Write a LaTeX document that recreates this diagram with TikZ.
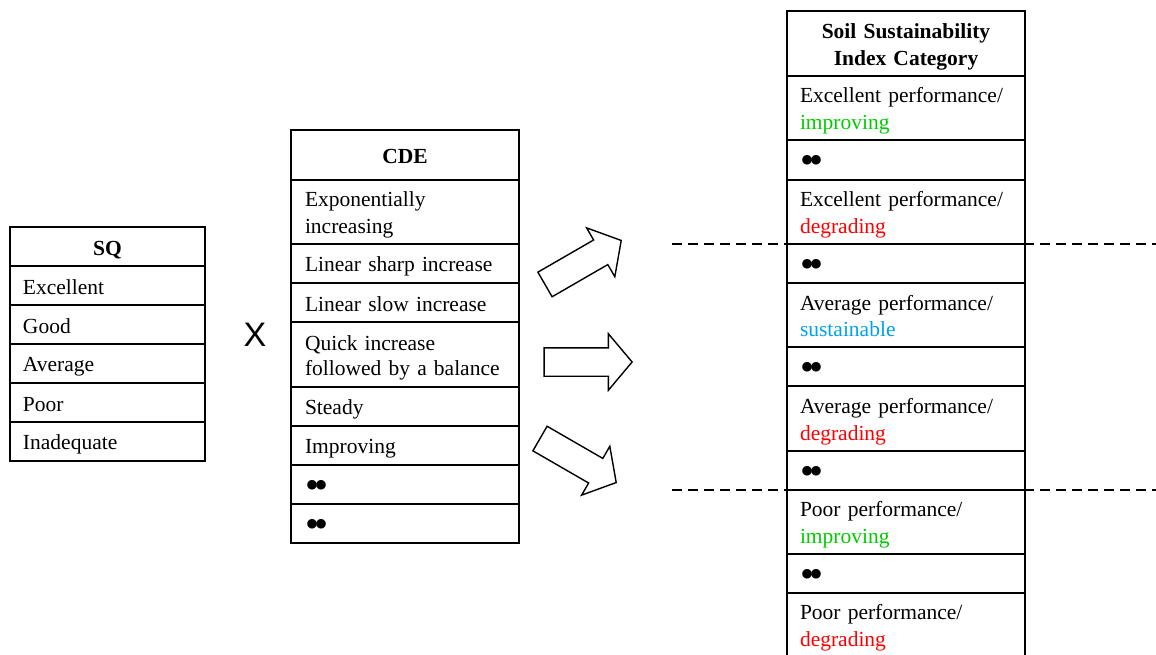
\documentclass[tikz,border=0pt]{standalone}
\usepackage{fontspec}
\setmainfont{Liberation Serif}
\newfontfamily\crossfont{Liberation Sans}
\usetikzlibrary{shapes.arrows, positioning}
\definecolor{upgreen}{RGB}{0,204,0}
\definecolor{downred}{RGB}{255,0,0}
\definecolor{sustblue}{RGB}{0,160,240}
\newcommand{\cellstrut}{\rule[-4.25pt]{0pt}{25.5pt}}
\newcommand{\twodots}{\raisebox{-6.5pt}{\fontsize{40}{40}\selectfont\textbullet\kern-4.5pt\textbullet}}
\tikzset{
    cell/.style={rectangle, draw, line width=1.8pt, outer sep=0pt, inner xsep=13pt, inner ysep=0pt, align=left, minimum height=39pt, font=\fontsize{21.5}{25.5}\selectfont, execute at begin node=\cellstrut, execute at end node=\cellstrut},
    head/.style={align=center, font=\fontsize{21.5}{25.5}\selectfont\bfseries},
    sqcell/.style={cell, text width=169pt},
    cdecell/.style={cell, text width=200pt, inner xsep=14pt},
    ssicell/.style={cell, text width=212pt},
    blockarrow/.style={single arrow, draw, line width=1.4pt, inner xsep=0pt, inner ysep=13.5pt, minimum width=55pt, minimum height=88pt, single arrow head extend=14pt, single arrow tip angle=100},
    divider/.style={line width=2.4pt, dash pattern=on 10pt off 6pt}
}

\begin{document}
\begin{tikzpicture}[x=1pt, y=1pt]
            \useasboundingbox (0,0) rectangle (1156,-655);
            % SQ
            \node[sqcell, head, anchor=north west] (sq0) at (10,-227) {SQ};
            \node[sqcell, below=0pt of sq0] (sq1) {Excellent};
            \node[sqcell, below=0pt of sq1] (sq2) {Good};
            \node[sqcell, below=0pt of sq2] (sq3) {Average};
            \node[sqcell, below=0pt of sq3] (sq4) {Poor};
            \node[sqcell, below=0pt of sq4] (sq5) {Inadequate};
            \node[font=\crossfont\fontsize{34}{34}\selectfont] (times) at (255,-335) {X};
            % CDE
            \node[cdecell, head, minimum height=50pt, anchor=north west] (cde0) at (291,-130) {CDE};
            \node[cdecell, minimum height=64pt, below=0pt of cde0] (cde1) {Exponentially\\increasing};
            \node[cdecell, below=0pt of cde1] (cde2) {Linear sharp increase};
            \node[cdecell, below=0pt of cde2] (cde3) {Linear slow increase};
            \node[cdecell, minimum height=65pt, below=0pt of cde3] (cde4) {Quick increase\\followed by a balance};
            \node[cdecell, below=0pt of cde4] (cde5) {Steady};
            \node[cdecell, below=0pt of cde5] (cde6) {Improving};
            \node[cdecell, below=0pt of cde6] (cde7) {\twodots};
            \node[cdecell, below=0pt of cde7] (cde8) {\twodots};
            % arrows
            \node[blockarrow, rotate=30, anchor=tip] (arrup) at (622,-240) {};
            \node[blockarrow, anchor=tip] (arrmid) at (633,-362) {};
            \node[blockarrow, rotate=-30, anchor=tip] (arrdown) at (617,-483) {};
            % Soil Sustainability Index Category
            \node[ssicell, head, minimum height=65pt, anchor=north west] (ssi0) at (787,-11) {Soil Sustainability\\Index Category};
            \node[ssicell, minimum height=64pt, below=0pt of ssi0] (ssi1) {Excellent performance/\\\textcolor{upgreen}{improving}};
            \node[ssicell, minimum height=40pt, below=0pt of ssi1] (ssi2) {\twodots};
            \node[ssicell, minimum height=64pt, below=0pt of ssi2] (ssi3) {Excellent performance/\\\textcolor{downred}{degrading}};
            \node[ssicell, below=0pt of ssi3] (ssi4) {\twodots};
            \node[ssicell, minimum height=64pt, below=0pt of ssi4] (ssi5) {Average performance/\\\textcolor{sustblue}{sustainable}};
            \node[ssicell, below=0pt of ssi5] (ssi6) {\twodots};
            \node[ssicell, minimum height=65pt, below=0pt of ssi6] (ssi7) {Average performance/\\\textcolor{downred}{degrading}};
            \node[ssicell, below=0pt of ssi7] (ssi8) {\twodots};
            \node[ssicell, minimum height=64pt, below=0pt of ssi8] (ssi9) {Poor performance/\\\textcolor{upgreen}{improving}};
            \node[ssicell, below=0pt of ssi9] (ssi10) {\twodots};
            \node[ssicell, minimum height=64pt, below=0pt of ssi10] (ssi11) {Poor performance/\\\textcolor{downred}{degrading}};
            % category cuts
            \coordinate (cutl) at (672,0);
            \coordinate (cutr) at (1160,0);
            \draw[divider] (cutl |- ssi4.north) -- (cutr |- ssi4.north);
            \draw[divider] (cutl |- ssi9.north) -- (cutr |- ssi9.north);
        \end{tikzpicture}
\end{document}
